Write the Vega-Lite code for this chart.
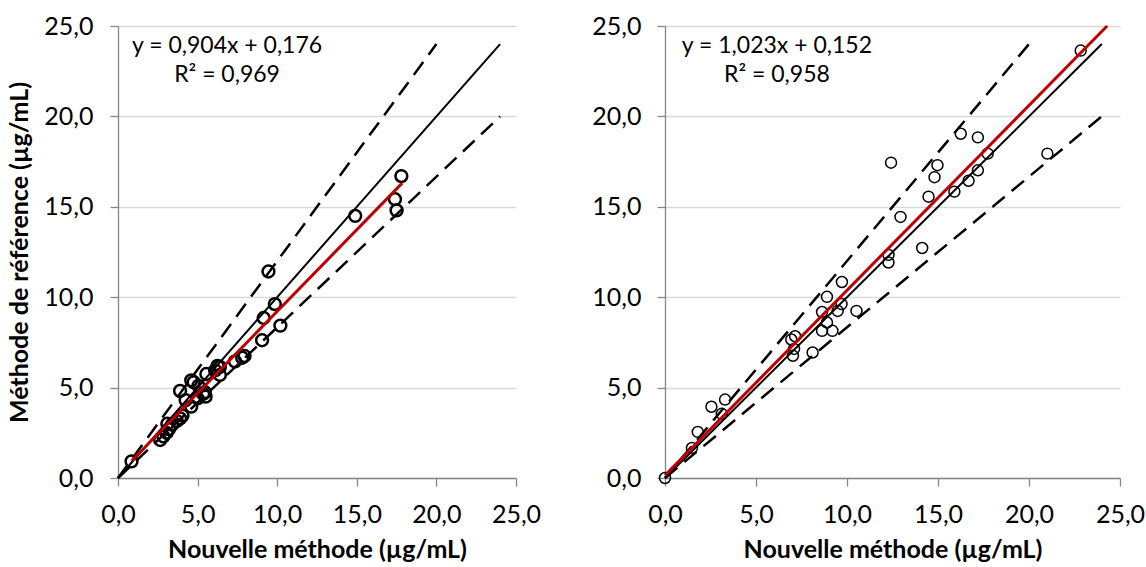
{
  "$schema": "https://vega.github.io/schema/vega-lite/v6.json",
  "padding": {"left": 7, "top": 14, "right": 0, "bottom": 0},
  "spacing": 50,
  "config": {
    "view": {"stroke": null},
    "font": "Lato",
    "axis": {
      "domainColor": "#868686",
      "domainWidth": 1.3,
      "tickColor": "#868686",
      "tickWidth": 1.3,
      "tickSize": 8,
      "gridColor": "#d9d9d9",
      "gridWidth": 1.3,
      "labelFont": "Lato",
      "labelFontSize": 25,
      "labelColor": "#000000",
      "labelFlush": false,
      "titleFont": "Lato",
      "titleFontSize": 25,
      "titleFontWeight": "bold",
      "titleColor": "#000000"
    }
  },
  "datasets": {
    "left": [
      {"x": 0.85, "y": 0.92}, {"x": 2.65, "y": 2.10}, {"x": 2.85, "y": 2.30}, {"x": 3.05, "y": 2.50},
      {"x": 3.20, "y": 2.70}, {"x": 3.10, "y": 3.00}, {"x": 3.40, "y": 2.95}, {"x": 3.70, "y": 3.15},
      {"x": 3.90, "y": 3.30}, {"x": 4.05, "y": 3.45}, {"x": 3.90, "y": 4.82}, {"x": 4.25, "y": 4.30},
      {"x": 4.60, "y": 3.95}, {"x": 4.60, "y": 5.40}, {"x": 4.75, "y": 5.30}, {"x": 5.05, "y": 5.10},
      {"x": 5.00, "y": 4.40}, {"x": 5.35, "y": 4.65}, {"x": 5.50, "y": 4.50}, {"x": 5.45, "y": 4.75},
      {"x": 5.55, "y": 5.75}, {"x": 6.10, "y": 5.95}, {"x": 6.25, "y": 6.20}, {"x": 6.40, "y": 6.15},
      {"x": 6.40, "y": 5.70}, {"x": 7.35, "y": 6.45}, {"x": 7.80, "y": 6.65}, {"x": 7.95, "y": 6.75},
      {"x": 9.05, "y": 7.62}, {"x": 9.15, "y": 8.85}, {"x": 9.85, "y": 9.62}, {"x": 9.45, "y": 11.42},
      {"x": 10.20, "y": 8.43}, {"x": 14.90, "y": 14.50}, {"x": 17.40, "y": 15.42}, {"x": 17.50, "y": 14.80},
      {"x": 17.80, "y": 16.70}
    ],
    "right": [
      {"x": 0.0, "y": 0.0}, {"x": 1.48, "y": 1.66}, {"x": 1.80, "y": 2.55}, {"x": 2.55, "y": 3.94},
      {"x": 3.30, "y": 4.34}, {"x": 3.12, "y": 3.55}, {"x": 6.94, "y": 7.66}, {"x": 7.15, "y": 7.84},
      {"x": 7.09, "y": 7.14}, {"x": 7.03, "y": 6.76}, {"x": 8.11, "y": 6.94}, {"x": 8.63, "y": 9.18},
      {"x": 8.63, "y": 8.14}, {"x": 8.90, "y": 8.60}, {"x": 8.90, "y": 10.02}, {"x": 9.20, "y": 8.14},
      {"x": 9.49, "y": 9.24}, {"x": 9.70, "y": 9.62}, {"x": 9.72, "y": 10.84}, {"x": 10.52, "y": 9.24},
      {"x": 12.28, "y": 11.92}, {"x": 12.28, "y": 12.34}, {"x": 12.42, "y": 17.44}, {"x": 12.94, "y": 14.44},
      {"x": 14.13, "y": 12.72}, {"x": 14.48, "y": 15.56}, {"x": 14.81, "y": 16.64}, {"x": 14.97, "y": 17.30},
      {"x": 15.90, "y": 15.84}, {"x": 16.25, "y": 19.04}, {"x": 16.68, "y": 16.44}, {"x": 17.19, "y": 17.02},
      {"x": 17.19, "y": 18.84}, {"x": 17.73, "y": 17.94}, {"x": 21.01, "y": 17.94}, {"x": 22.84, "y": 23.64}
    ],
    "refLines": [
      {"line": "identity", "x": 0, "y": 0}, {"line": "identity", "x": 24, "y": 24},
      {"line": "upper", "x": 0, "y": 0}, {"line": "upper", "x": 20, "y": 24},
      {"line": "lower", "x": 0, "y": 0}, {"line": "lower", "x": 24, "y": 20}
    ],
    "fitLeft": [{"x": 0.85, "y": 0.944}, {"x": 17.85, "y": 16.312}],
    "fitRight": [{"x": 0.0, "y": 0.152}, {"x": 24.29, "y": 25.0}],
    "annLeft": [{"x": 6.85, "y": 23.9, "label": "y = 0,904x + 0,176"}, {"x": 6.85, "y": 22.3, "label": "R² = 0,969"}],
    "annRight": [{"x": 6.15, "y": 23.9, "label": "y = 1,023x + 0,152"}, {"x": 6.15, "y": 22.3, "label": "R² = 0,958"}]
  },
  "hconcat": [
    {
      "width": 398,
      "height": 452,
      "encoding": {
        "x": {"field": "x", "type": "quantitative", "scale": {"domain": [0, 25], "nice": false, "padding": 0, "zero": false},
          "axis": {"title": "Nouvelle méthode (µg/mL)", "values": [0, 5, 10, 15, 20, 25], "grid": false, "labelPadding": 16, "titlePadding": 10,
            "labelExpr": "replace(format(datum.value, '.1f'), '.', ',')"}},
        "y": {"field": "y", "type": "quantitative", "scale": {"domain": [0, 25], "nice": false, "padding": 0, "zero": false},
          "axis": {"title": "Méthode de référence (µg/mL)", "values": [0, 5, 10, 15, 20, 25], "grid": true, "labelPadding": 17, "titlePadding": 11,
            "labelExpr": "replace(format(datum.value, '.1f'), '.', ',')"}}
      },
      "layer": [
        {"data": {"name": "left"}, "mark": {"type": "point", "shape": "circle", "filled": false, "stroke": "#000000", "strokeWidth": 2.5, "size": 140, "opacity": 1}},
        {"data": {"name": "refLines"}, "transform": [{"filter": "datum.line === 'identity'"}], "mark": {"type": "line", "color": "#000000", "strokeWidth": 2}},
        {"data": {"name": "refLines"}, "transform": [{"filter": "datum.line !== 'identity'"}], "mark": {"type": "line", "color": "#000000", "strokeWidth": 2.5, "strokeDash": [16, 9]}, "encoding": {"detail": {"field": "line"}}},
        {"data": {"name": "fitLeft"}, "mark": {"type": "line", "color": "#c00000", "strokeWidth": 3}},
        {"data": {"name": "annLeft"}, "mark": {"type": "text", "fontSize": 23, "font": "Lato", "align": "center", "baseline": "middle", "color": "#000000"}, "encoding": {"text": {"field": "label"}}}
      ]
    },
    {
      "width": 455,
      "height": 452,
      "encoding": {
        "x": {"field": "x", "type": "quantitative", "scale": {"domain": [0, 25], "nice": false, "padding": 0, "zero": false},
          "axis": {"title": "Nouvelle méthode (µg/mL)", "values": [0, 5, 10, 15, 20, 25], "grid": false, "labelPadding": 16, "titlePadding": 10,
            "labelExpr": "replace(format(datum.value, '.1f'), '.', ',')"}},
        "y": {"field": "y", "type": "quantitative", "scale": {"domain": [0, 25], "nice": false, "padding": 0, "zero": false},
          "axis": {"title": null, "values": [0, 5, 10, 15, 20, 25], "grid": true, "labelPadding": 16,
            "labelExpr": "replace(format(datum.value, '.1f'), '.', ',')"}}
      },
      "layer": [
        {"data": {"name": "right"}, "mark": {"type": "point", "shape": "circle", "filled": false, "stroke": "#000000", "strokeWidth": 1.5, "size": 120, "opacity": 1}},
        {"data": {"name": "refLines"}, "transform": [{"filter": "datum.line === 'identity'"}], "mark": {"type": "line", "color": "#000000", "strokeWidth": 2}},
        {"data": {"name": "refLines"}, "transform": [{"filter": "datum.line !== 'identity'"}], "mark": {"type": "line", "color": "#000000", "strokeWidth": 2.5, "strokeDash": [16, 9]}, "encoding": {"detail": {"field": "line"}}},
        {"data": {"name": "fitRight"}, "mark": {"type": "line", "color": "#c00000", "strokeWidth": 3}},
        {"data": {"name": "annRight"}, "mark": {"type": "text", "fontSize": 23, "font": "Lato", "align": "center", "baseline": "middle", "color": "#000000"}, "encoding": {"text": {"field": "label"}}}
      ]
    }
  ]
}
